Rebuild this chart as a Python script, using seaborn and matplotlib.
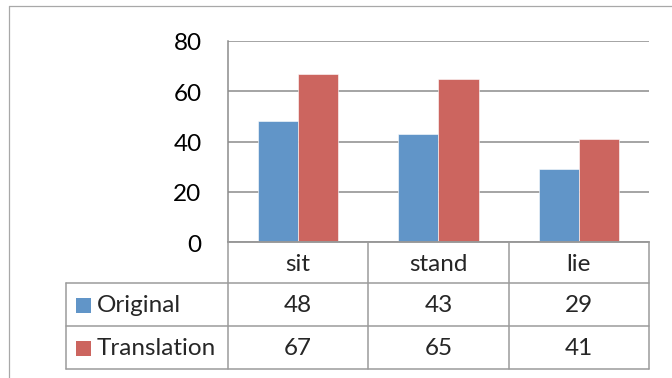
import matplotlib
matplotlib.use("Agg")
import matplotlib.pyplot as plt
import matplotlib.transforms as mtransforms
from matplotlib.lines import Line2D
from matplotlib.patches import Rectangle
import seaborn as sns
import pandas as pd

# Data
categories = ["sit", "stand", "lie"]
series_names = ["Original", "Translation"]
original = [48, 43, 29]
translation = [67, 65, 41]
y_ticks = [0, 20, 40, 60, 80]
series_colors = ["#6195C8", "#CC655F"]

df = pd.DataFrame({
    "category": categories * 2,
    "series": [series_names[0]] * len(categories) + [series_names[1]] * len(categories),
    "value": original + translation,
})

sns.set_theme(style="white")
plt.rcParams["font.family"] = ["Lato", "DejaVu Sans"]

W, H = 672, 378
fig = plt.figure(figsize=(W / 100, H / 100), dpi=100)
fig.patch.set_facecolor("white")


def fx(px):
    return px / W


def fy(py):
    return 1 - py / H


GRID = "#8C8C8C"
TABLE = "#9B9B9B"
FRAME = "#A8A8A8"
FS = 17.5

# Plot area
left, right, top, bottom = 228, 649, 41, 242
ax = fig.add_axes([fx(left), fy(bottom), fx(right - left), (bottom - top) / H])

sns.barplot(data=df, x="category", y="value", hue="series", order=categories,
            hue_order=series_names, palette=series_colors, saturation=1,
            width=0.572, gap=0, errorbar=None, edgecolor="#FFFFFF",
            linewidth=0.4, legend=False, ax=ax)

ax.set_xlim(-0.5, len(categories) - 0.5)
ax.set_ylim(y_ticks[0], y_ticks[-1])
ax.set_yticks(y_ticks)
ax.set_xticks([])
ax.set_xlabel("")
ax.set_ylabel("")
ax.yaxis.grid(True, color=GRID, linewidth=1.1)
ax.set_axisbelow(True)
for side in ("top", "right"):
    ax.spines[side].set_visible(False)
for side in ("left", "bottom"):
    ax.spines[side].set_color(GRID)
    ax.spines[side].set_linewidth(1.1)
ax.tick_params(axis="y", length=0, pad=19, labelsize=FS, labelcolor="black")
shift = mtransforms.ScaledTranslation(0, -3 / 100, fig.dpi_scale_trans)
for lbl in ax.get_yticklabels():
    lbl.set_verticalalignment("center")
    lbl.set_transform(lbl.get_transform() + shift)


def hline(x0, x1, y, color=TABLE, lw=1.1):
    fig.add_artist(Line2D([fx(x0), fx(x1)], [fy(y), fy(y)],
                          transform=fig.transFigure, color=color, lw=lw))


def vline(x, y0, y1, color=TABLE, lw=1.1):
    fig.add_artist(Line2D([fx(x), fx(x)], [fy(y0), fy(y1)],
                          transform=fig.transFigure, color=color, lw=lw))


# Chart frame
vline(9, 6, H, color=FRAME, lw=0.9)
hline(9, W, 6, color=FRAME, lw=0.9)

# Data table below the axis
n = len(categories)
col_edges = [left + i * (right - left) / n for i in range(n + 1)]
col_centers = [(col_edges[i] + col_edges[i + 1]) / 2 for i in range(n)]
legend_left = 66
row_edges = [bottom, 283, 326, 369]

hline(left, right, row_edges[0])
for y in row_edges[1:]:
    hline(legend_left, right, y)
for x in col_edges:
    vline(x, row_edges[0], row_edges[-1])
vline(legend_left, row_edges[1], row_edges[-1])

header_y = (row_edges[0] + row_edges[1]) / 2 + 2
for cx, name in zip(col_centers, categories):
    fig.text(fx(cx), fy(header_y), name, ha="center", va="center", fontsize=FS)

for r, (name, vals, color) in enumerate(zip(series_names, [original, translation], series_colors)):
    cy = (row_edges[r + 1] + row_edges[r + 2]) / 2 + 1
    fig.add_artist(Rectangle((fx(76), fy(cy + 7.5)), fx(15), 15 / H,
                             transform=fig.transFigure, facecolor=color,
                             edgecolor="none"))
    fig.text(fx(97), fy(cy), name, ha="left", va="center", fontsize=FS)
    for cx, v in zip(col_centers, vals):
        fig.text(fx(cx), fy(cy), str(v), ha="center", va="center", fontsize=FS)

fig.savefig("out.png", dpi=100, facecolor="white")
